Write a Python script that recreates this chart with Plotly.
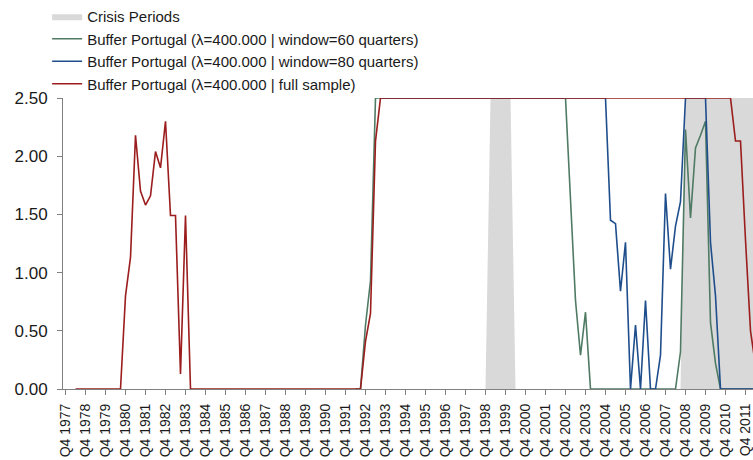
import plotly.graph_objects as go

# ---------------- data ----------------
# quarterly categories Q4 1977 ... Q2 2012
quarters = []
y, q = 1977, 4
for _ in range(139):
    quarters.append(f"Q{q} {y}")
    q += 1
    if q > 4:
        q = 1
        y += 1

tick_labels = [c for c in quarters if c.startswith("Q4")]

N = len(quarters)

# Crisis periods (area chart, 2.5 = in crisis)
crisis = [0.0] * N
for i in range(85, 90):
    crisis[i] = 2.5
for i in range(124, N):
    crisis[i] = 2.5

# Buffer Portugal (full sample)
buffer_full = ([None, None] + [0.0] * 10 +
               [0.80, 1.13, 2.18, 1.70, 1.58, 1.66, 2.04, 1.90, 2.30, 1.49, 1.49, 0.13, 1.49, 0.0] +
               [0.0] * 34 +
               [0.41, 0.65, 2.13] +
               [2.5] * 71 +
               [2.13, 2.13, 1.28, 0.50, 0.20])

# Buffer Portugal (window = 60 quarters)
buffer_w60 = ([None] * 58 + [0.0, 0.0, 0.55, 0.93] +
              [2.5] * 39 +
              [1.63, 0.76, 0.29, 0.66] +
              [0.0] * 18 +
              [0.32, 2.23, 1.47, 2.07, 2.18, 2.30, 0.57, 0.22] +
              [0.0] * 8)

# Buffer Portugal (window = 80 quarters)
buffer_w80 = ([None] * 63 + [2.5] * 46 +
              [1.45, 1.42, 0.84, 1.26, 0.0, 0.55, 0.0, 0.76, 0.0, 0.0, 0.29, 1.68, 1.03, 1.40, 1.61] +
              [2.5] * 5 +
              [1.26, 0.80] +
              [0.0] * 8)

y_ticks = [0.0, 0.5, 1.0, 1.5, 2.0, 2.5]

assert len(buffer_full) == N and len(buffer_w60) == N and len(buffer_w80) == N

# ---------------- figure ----------------
FONT = "Liberation Sans, Arial, sans-serif"

fig = go.Figure()
fig.add_trace(go.Scatter(
    x=quarters, y=crisis, name="Crisis Periods", mode="lines",
    fill="tozeroy", fillcolor="#d9d9d9", line=dict(width=0, color="#d9d9d9"),
    hoverinfo="skip"))
fig.add_trace(go.Scatter(
    x=quarters, y=buffer_w60, mode="lines",
    name="Buffer Portugal (λ=400.000 | window=60 quarters)",
    line=dict(color="#4f7a64", width=1.6)))
fig.add_trace(go.Scatter(
    x=quarters, y=buffer_w80, mode="lines",
    name="Buffer Portugal (λ=400.000 | window=80 quarters)",
    line=dict(color="#1f4e8c", width=1.6)))
fig.add_trace(go.Scatter(
    x=quarters, y=buffer_full, mode="lines",
    name="Buffer Portugal (λ=400.000 | full sample)",
    line=dict(color="#9b1d1d", width=1.6)))

fig.update_layout(
    width=753, height=460,
    margin=dict(l=63, r=0, t=97, b=71),
    paper_bgcolor="white", plot_bgcolor="white",
    font=dict(family=FONT, size=16, color="#1a1a1a"),
    showlegend=True,
    legend=dict(
        x=-0.023, y=1.335, xanchor="left", yanchor="top",
        font=dict(family=FONT, size=15, color="#1a1a1a"),
        bgcolor="rgba(0,0,0,0)", borderwidth=0,
        tracegroupgap=0,
    ),
    xaxis=dict(
        type="category",
        categoryorder="array", categoryarray=quarters,
        range=[-0.5, 137.5],
        tickmode="array", tickvals=tick_labels, ticktext=tick_labels,
        tickangle=-90,
        ticks="outside", ticklen=5, tickcolor="#808080", tickwidth=1,
        showline=True, linecolor="#808080", linewidth=1,
        showgrid=False, zeroline=False,
        automargin=False,
        ticklabelstandoff=3,
        tickfont=dict(family=FONT, size=14, color="#1a1a1a"),
    ),
    yaxis=dict(
        range=[0, 2.5],
        tickmode="array", tickvals=y_ticks, tickformat=".2f",
        ticks="outside", ticklen=5, tickcolor="#808080", tickwidth=1,
        showline=True, linecolor="#808080", linewidth=1,
        showgrid=False, zeroline=False,
        automargin=False,
        ticklabelstandoff=6,
        tickfont=dict(family=FONT, size=17, color="#1a1a1a"),
    ),
)

fig.write_html("out.html")
